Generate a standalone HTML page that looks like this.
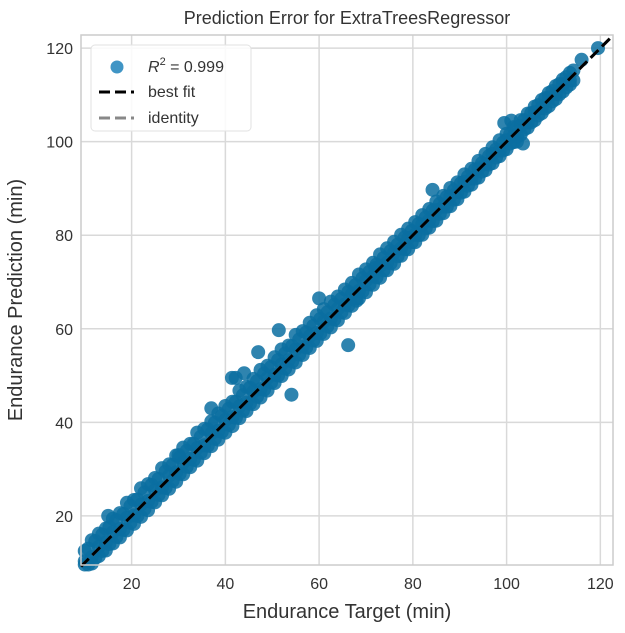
<!DOCTYPE html>
<html><head><meta charset="utf-8"><style>
body{margin:0;background:#fff;font-family:"Liberation Sans",Arial,sans-serif;}
svg{display:block}
text{font-family:"Liberation Sans",Arial,sans-serif;fill:#333}
</style></head><body>
<svg id="chart" width="625" height="633" viewBox="0 0 625 633" xmlns="http://www.w3.org/2000/svg">
<rect width="625" height="633" fill="#fff"/>
<g id="grid"></g>
<g id="points"></g>
<g id="lines"></g>
<rect x="81" y="35" width="532" height="530" fill="none" stroke="#ccc" stroke-width="1.5"/>
<g id="ticks"></g>
<text x="347" y="24" text-anchor="middle" font-size="18">Prediction Error for ExtraTreesRegressor</text>
<text x="347" y="618" text-anchor="middle" font-size="20" fill="#111">Endurance Target (min)</text>
<text transform="translate(22,300) rotate(-90)" text-anchor="middle" font-size="20" fill="#111">Endurance Prediction (min)</text>
<g>
<rect x="91" y="45" width="160" height="86" rx="4" fill="#fff" fill-opacity="0.85" stroke="#e2e2e2"/>
<circle cx="117" cy="67" r="6.5" fill="#0072B2" fill-opacity="0.75"/>
<text x="148" y="72" font-size="16"><tspan font-style="italic">R</tspan><tspan font-size="11" dy="-7">2</tspan><tspan dy="7"> = 0.999</tspan></text>
<line x1="99" y1="92" x2="134" y2="92" stroke="#000" stroke-width="3" stroke-dasharray="11,5"/>
<text x="148" y="97" font-size="16">best fit</text>
<line x1="99" y1="118" x2="134" y2="118" stroke="#888" stroke-width="3" stroke-dasharray="11,5"/>
<text x="148" y="123" font-size="16">identity</text>
</g>
</svg>
<script>
const xTicks=[20,40,60,80,100,120];
const yTicks=[20,40,60,80,100,120];
const targets=[10,11.5,13,14.5,16,17.5,19,20.5,22,23.5,25,26.5,28,29.5,31,32.5,34,35.5,37,38.5,40,41.5,43,44.5,46,47.5,49,50.5,52,53.5,55,56.5,58,59.5,61,62.5,64,65.5,67,68.5,70,71.5,73,74.5,76,77.5,79,80.5,82,83.5,85,86.5,88,89.5,91,92.5,94,95.5,97,98.5,100,101.5,103,104.5,106,107.5,109,110.5,112,113.5];
const predUpper=[12.5,14.8,16.2,17.3,19.4,20.6,22.8,23.4,25.9,26.8,28.1,30.2,31.0,32.9,34.6,35.4,37.8,38.6,40.2,41.9,43.5,44.4,46.8,47.6,49.3,51.2,52.1,53.9,55.6,56.4,58.7,59.5,61.3,62.9,64.2,65.8,66.9,68.4,69.8,71.6,72.7,74.1,75.9,77.2,78.6,80.1,81.4,82.8,84.3,85.6,87.2,88.4,90.1,91.3,93.0,94.2,95.9,97.4,98.8,100.3,101.7,103.1,104.6,106.0,107.5,108.9,110.4,111.9,113.3,114.7];
const predMiddle=[10.3,11.2,13.4,14.3,16.5,17.2,19.6,20.1,22.4,23.2,25.5,26.1,28.6,29.3,31.4,32.2,34.5,35.1,37.6,38.2,40.5,41.1,43.4,44.2,46.6,47.1,49.5,50.2,52.4,53.3,55.6,56.2,58.4,59.1,61.5,62.2,64.3,65.2,67.4,68.1,70.3,71.2,73.4,74.1,76.3,77.2,79.4,80.1,82.3,83.2,85.4,86.1,88.3,89.2,91.4,92.1,94.3,95.2,97.4,98.1,100.3,101.2,103.4,104.1,106.3,107.2,109.4,110.2,112.3,113.1];
const predLower=[9.6,9.8,11.4,12.6,14.1,15.4,16.9,18.3,19.8,21.2,22.9,24.4,25.8,27.3,28.9,30.4,31.8,33.4,34.9,36.3,37.8,39.2,40.9,42.4,43.9,45.3,46.8,48.4,49.9,51.3,52.8,54.4,55.9,57.4,58.9,60.3,61.8,63.4,64.9,66.5,67.8,69.4,70.9,72.5,73.9,75.6,77.0,78.5,80.1,81.6,83.1,84.7,86.2,87.7,89.3,90.8,92.3,93.9,95.4,96.9,98.4,99.9,101.5,103.0,104.6,106.1,107.6,109.1,110.7,112.2];
const targetsB=[10.75,12.25,13.75,15.25,16.75,18.25,19.75,21.25,22.75,24.25,25.75,27.25,28.75,30.25,31.75,33.25,34.75,36.25,37.75,39.25,40.75,42.25,43.75,45.25,46.75,48.25,49.75,51.25,52.75,54.25,55.75,57.25,58.75,60.25,61.75,63.25,64.75,66.25,67.75,69.25,70.75,72.25,73.75,75.25,76.75,78.25,79.75,81.25,82.75,84.25,85.75,87.25,88.75,90.25,91.75,93.25,94.75,96.25,97.75,99.25,100.75,102.25,103.75,105.25,106.75,108.25,109.75,111.25,112.75,114.25];
const predUpperB=[13.0,14.6,16.0,17.6,19.1,20.4,22.1,23.5,25.0,26.6,27.9,29.5,30.9,32.5,33.9,35.4,36.9,38.5,39.9,41.4,42.9,44.4,45.8,47.4,48.8,50.4,51.8,53.3,54.7,56.3,57.7,59.2,60.6,62.1,63.5,65.1,66.4,67.9,69.3,70.8,72.2,73.7,75.1,76.6,78.0,79.5,80.9,82.4,83.8,85.3,86.7,88.2,89.6,91.1,92.5,94.0,95.4,96.9,98.3,99.8,101.6,103.1,104.6,106.1,107.8,109.3,110.8,112.3,113.8,115.2];
const predLowerB=[9.6,11.0,12.5,14.0,15.5,17.0,18.5,20.0,21.5,23.0,24.5,26.0,27.5,29.0,30.5,32.0,33.5,35.0,36.5,38.0,39.5,41.0,42.5,44.0,45.5,47.0,48.5,50.0,51.5,53.0,54.5,56.0,57.5,59.0,60.5,62.0,63.5,65.0,66.5,68.0,69.5,71.0,72.5,74.0,75.5,77.0,78.5,80.0,81.5,83.0,84.6,86.1,87.6,89.1,90.6,92.1,93.6,95.1,96.6,98.1,99.6,101.1,102.6,104.1,105.6,107.1,108.6,110.1,111.6,113.1];
const outlierTargets=[41.4,42.2,54.1,66.2,84.2,44,102.2,101,103.5,119.5,116,37,30,15,47,51.4,60,72,68,99.5];
const outlierPreds=[49.5,49.5,45.9,56.5,89.7,50.5,100,104.5,99.6,120,117.5,43,33,20,55,59.7,66.5,73,66,104];
const fitRange=[9.2,122.7];
const X0=9.2,X1=122.7,Y0=9.5,Y1=122.8,PL=81,PR=613,PT=35,PB=565;
const sx=v=>PL+(v-X0)/(X1-X0)*(PR-PL);
const sy=v=>PB-(v-Y0)/(Y1-Y0)*(PB-PT);
const NS='http://www.w3.org/2000/svg';
function mk(tag,parent,attrs){const e=document.createElementNS(NS,tag);for(const k in attrs)e.setAttribute(k,attrs[k]);parent.appendChild(e);return e;}
const grid=document.getElementById('grid'),ticks=document.getElementById('ticks'),pts=document.getElementById('points'),lines=document.getElementById('lines');
xTicks.forEach(v=>{const l=mk('line',grid,{x1:sx(v),x2:sx(v),y1:PT,y2:PB,stroke:'#d9d9d9','stroke-width':1.5});


const t=mk('text',ticks,{x:sx(v),y:PB+24,'text-anchor':'middle','font-size':16});t.textContent=v;

});
yTicks.forEach(v=>{const l=mk('line',grid,{x1:PL,x2:PR,y1:sy(v),y2:sy(v),stroke:'#d9d9d9','stroke-width':1.5});


const t=mk('text',ticks,{x:PL-8,y:sy(v)+6,'text-anchor':'end','font-size':16});t.textContent=v;

});
function dot(x,y){const c=mk('circle',pts,{cx:sx(x),cy:sy(y),r:7,fill:'#0a6fa1','fill-opacity':0.85});

}
targets.forEach((t,i)=>{dot(t,predUpper[i]);dot(t,predLower[i]);dot(t,predMiddle[i]);});
targetsB.forEach((t,i)=>{dot(t,predUpperB[i]);dot(t,predLowerB[i]);});
outlierTargets.forEach((t,i)=>dot(t,outlierPreds[i]));
const idl=mk('line',lines,{x1:sx(fitRange[0]),y1:sy(fitRange[0]),x2:sx(fitRange[1]),y2:sy(fitRange[1]),stroke:'#888','stroke-width':3,'stroke-dasharray':'11,5'});


const bf=mk('line',lines,{x1:sx(fitRange[0]),y1:sy(fitRange[0]),x2:sx(fitRange[1]),y2:sy(fitRange[1]),stroke:'#000','stroke-width':3,'stroke-dasharray':'11,5'});


</script>
</body></html>
